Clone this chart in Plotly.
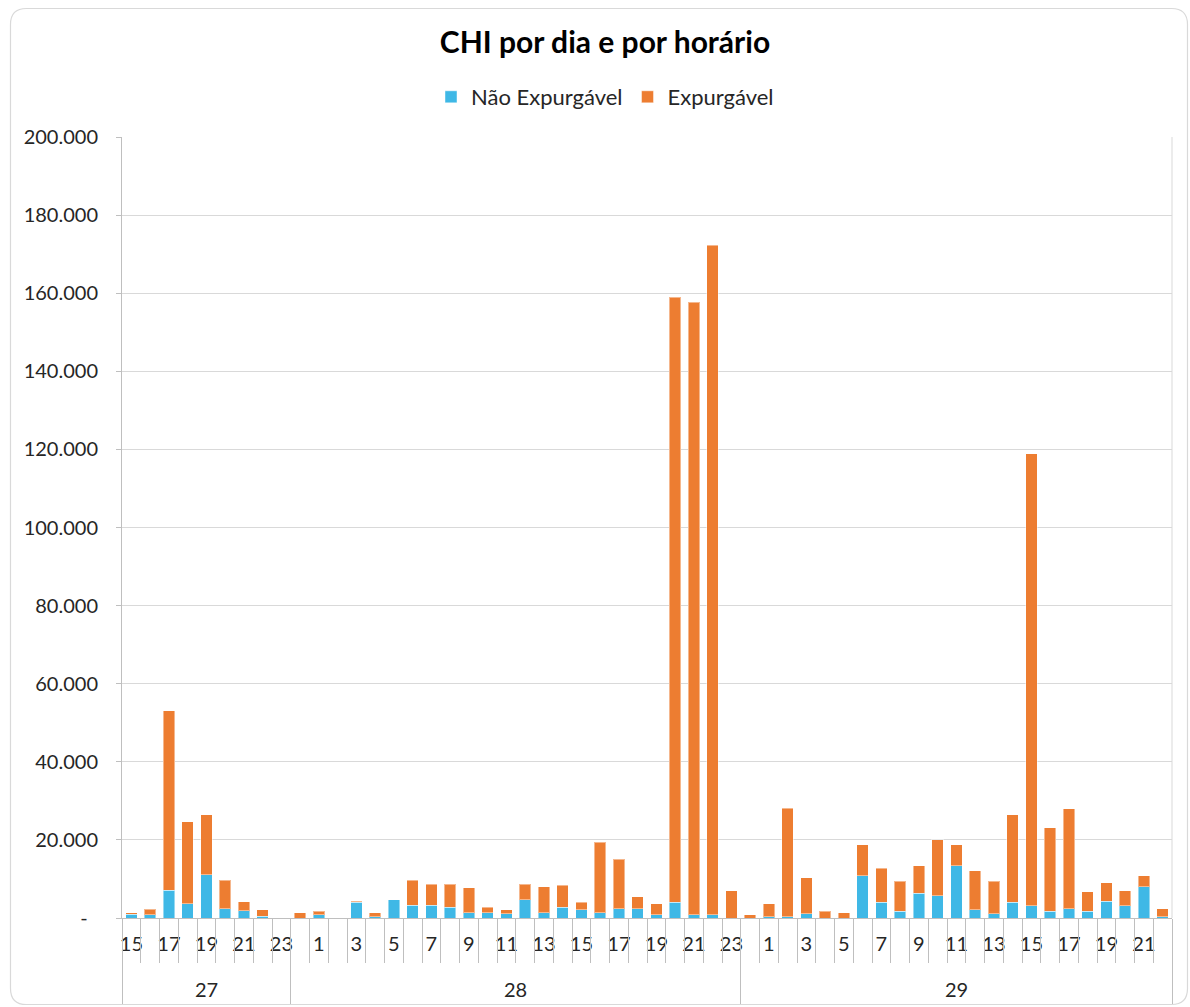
import plotly.graph_objects as go

# ---------------- data ----------------
day_labels = ["27", "28", "29"]
hours_27 = [15, 16, 17, 18, 19, 20, 21, 22, 23]
hours_28 = [0, 1, 2, 3, 4, 5, 6, 7, 8, 9, 10, 11, 12, 13, 14, 15, 16, 17, 18, 19, 20, 21, 22, 23]
hours_29 = [0, 1, 2, 3, 4, 5, 6, 7, 8, 9, 10, 11, 12, 13, 14, 15, 16, 17, 18, 19, 20, 21, 22]

nao_exp_27 = [1000, 800, 7100, 3700, 11100, 2400, 1800, 400, 0]
nao_exp_28 = [0, 800, 0, 4000, 350, 4700, 3300, 3300, 2700, 1400, 1400, 1100,
              4700, 1400, 2700, 2050, 1400, 2400, 2400, 800, 4000, 800, 800, 0]
nao_exp_29 = [0, 350, 350, 1100, 0, 0, 10800, 4000, 1700, 6400, 5700, 13400,
              2050, 1100, 4000, 3100, 1700, 2400, 1700, 4350, 3100, 8000, 350]

exp_27 = [300, 1400, 46000, 21000, 15300, 7300, 2300, 1700, 0]
exp_28 = [1400, 900, 0, 350, 1000, 0, 6400, 5400, 6000, 6400, 1400, 950,
          4000, 6600, 5700, 1950, 18000, 12600, 3000, 2900, 155000, 156900, 171500, 7000]
exp_29 = [800, 3350, 27700, 9200, 1700, 1400, 7900, 8700, 7700, 7000, 14400, 5300,
          10000, 8300, 22400, 115800, 21400, 25600, 5000, 4700, 3900, 2800, 2050]

y_tickvals = [0, 20000, 40000, 60000, 80000, 100000, 120000, 140000, 160000, 180000, 200000]
y_ticktext = ["-\u00a0\u00a0", "20.000", "40.000", "60.000", "80.000", "100.000",
              "120.000", "140.000", "160.000", "180.000", "200.000"]

# ---------------- build ----------------
hour_groups = [hours_27, hours_28, hours_29]
hours = hours_27 + hours_28 + hours_29
nao_exp = nao_exp_27 + nao_exp_28 + nao_exp_29
exp = exp_27 + exp_28 + exp_29
pos = list(range(len(hours)))

tickvals = [p for p, h in zip(pos, hours) if h % 2 == 1]
ticktext = [str(h) for h in hours if h % 2 == 1]

slot_bounds = [p - 0.5 for p in pos] + [pos[-1] + 0.5]
day_bounds = [-0.5]
for g in hour_groups:
    day_bounds.append(day_bounds[-1] + len(g))
day_mids = [(a + b) / 2 for a, b in zip(day_bounds[:-1], day_bounds[1:])]

BLUE = "#3FB8E6"
ORANGE = "#ED7D31"
GRID = "#D9D9D9"
AXIS = "#BFBFBF"
FONT = "Lato, 'Open Sans', sans-serif"
TXT = "#262626"

fig = go.Figure()
fig.add_trace(go.Bar(x=pos, y=nao_exp, name="Não Expurgável",
                     marker=dict(color=BLUE, line=dict(color="rgba(255,255,255,0.45)", width=1))))
fig.add_trace(go.Bar(x=pos, y=exp, name="Expurgável",
                     marker=dict(color=ORANGE, line=dict(color="rgba(255,255,255,0.45)", width=1))))
# empty helper trace so that the category-divider axis is drawn (draws nothing)
fig.add_trace(go.Scatter(x=day_bounds, y=[0] * len(day_bounds), xaxis="x2", mode="none",
                         showlegend=False, hoverinfo="skip"))

W, H = 1190, 1007
ml, mr, mt, mb = 122, 18, 137, 89
pw, ph = W - ml - mr, H - mt - mb


def px(x):
    return (x - ml) / pw


def py(y):
    return (H - mb - y) / ph


# day labels
annotations = [dict(x=m, y=py(989), xref="x", yref="paper", text=d, showarrow=False,
                    font=dict(family=FONT, size=20, color=TXT), xanchor="center", yanchor="middle")
               for m, d in zip(day_mids, day_labels)]

# outer rounded border
x0, x1, y0, y1, r = px(10.5), px(1187.5), py(1004.5), py(8.5), 16
rx, ry = r / pw, r / ph
border = (f"M {x0+rx},{y1} L {x1-rx},{y1} Q {x1},{y1} {x1},{y1-ry} L {x1},{y0+ry} "
          f"Q {x1},{y0} {x1-rx},{y0} L {x0+rx},{y0} Q {x0},{y0} {x0},{y0+ry} "
          f"L {x0},{y1-ry} Q {x0},{y1} {x0+rx},{y1} Z")

shapes = [
    dict(type="path", path=border, xref="paper", yref="paper",
         line=dict(color="#D9D9D9", width=1.2), layer="below"),
    dict(type="line", xref="x domain", yref="paper", x0=1, x1=1, y0=0, y1=1,
         line=dict(color=GRID, width=1)),
]

fig.update_layout(
    width=W, height=H,
    margin=dict(l=ml, r=mr, t=mt, b=mb, autoexpand=False),
    paper_bgcolor="white", plot_bgcolor="white",
    barmode="stack", bargap=0.38,
    font=dict(family=FONT, color=TXT),
    title=dict(text="<b>CHI por dia e por horário</b>", x=605 / W, xref="container",
               y=1 - 42 / H, yref="container", xanchor="center", yanchor="middle",
               font=dict(family=FONT, size=30, color="#000000")),
    legend=dict(orientation="h", x=px(605), y=py(97), xanchor="center", yanchor="middle",
                font=dict(family=FONT, size=22, color=TXT), traceorder="normal",
                itemwidth=30, bgcolor="rgba(0,0,0,0)"),
    xaxis=dict(range=[-0.5, len(pos) - 0.5], tickmode="array", tickvals=tickvals, ticktext=ticktext,
               ticks="", showgrid=False, zeroline=False, showline=True, linecolor=AXIS, linewidth=1,
               tickfont=dict(family=FONT, size=20, color=TXT), ticklabelstandoff=8,
               automargin=False, fixedrange=True),
    xaxis2=dict(overlaying="x", anchor="y", side="bottom", range=[-0.5, len(pos) - 0.5],
                tickmode="array", tickvals=day_bounds, ticks="outside", ticklen=85,
                tickcolor=AXIS, tickwidth=1, showticklabels=False, showgrid=False, zeroline=False,
                showline=False, fixedrange=True, automargin=False,
                minor=dict(tickmode="array", tickvals=slot_bounds, ticks="outside", ticklen=44,
                           tickcolor=AXIS, tickwidth=1, showgrid=False)),
    yaxis=dict(range=[0, 200000], tickmode="array", tickvals=y_tickvals, ticktext=y_ticktext,
               showgrid=True, gridcolor=GRID, gridwidth=1, zeroline=False,
               showline=True, linecolor=AXIS, linewidth=1, ticks="outside", ticklen=5,
               tickcolor=AXIS, tickfont=dict(family=FONT, size=20, color=TXT),
               ticklabelstandoff=14, automargin=False, fixedrange=True),
    annotations=annotations,
    shapes=shapes,
    showlegend=True,
)

fig.write_html("out.html", config={"displayModeBar": False},
               post_script="document.body.style.margin='0';")
